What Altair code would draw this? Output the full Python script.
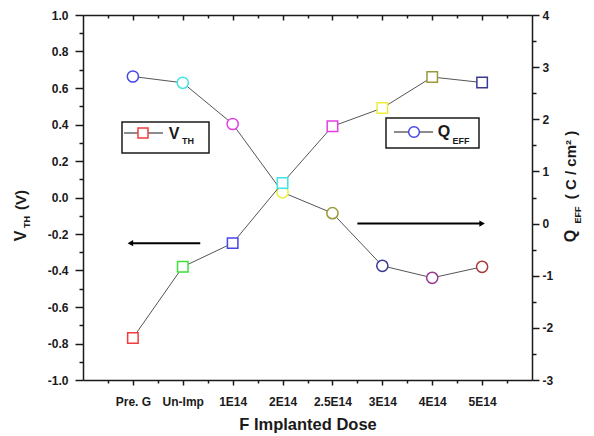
import json
import altair as alt
import pandas as pd

# ---------------- data ----------------
categories = ["Pre. G", "Un-Imp", "1E14", "2E14", "2.5E14", "3E14", "4E14", "5E14"]
vth_values = [-0.77, -0.38, -0.25, 0.08, 0.39, 0.49, 0.66, 0.63]
qeff_values = [2.82, 2.70, 1.91, 0.60, 0.20, -0.81, -1.04, -0.83]
square_colors = ["#f23c3c", "#3ee03e", "#4646e6", "#3fe3e3", "#e43fe4", "#eeee3c", "#9a9a38", "#3a3a94"]
circle_colors = ["#4646e6", "#3fe3e3", "#e43fe4", "#eeee3c", "#9a9a38", "#3a3a94", "#943a94", "#a83a3a"]

x_ticks = [i / 2 for i in range(-1, 16)]
left_ticks = [round(-1 + i * 0.1, 1) for i in range(21)]
right_ticks = [-3 + i * 0.5 for i in range(15)]

left_arrow = {"x": [1.35], "x2": [-0.05], "v": [-0.25]}
right_arrow = {"x": [4.5], "x2": [7.0], "q": [0.0]}

df = pd.DataFrame({
    "idx": list(range(len(categories))),
    "cat": categories,
    "vth": vth_values,
    "qeff": qeff_values,
    "sq_col": square_colors,
    "ci_col": circle_colors,
})

FONT = "Liberation Sans"
AX = "#1a1a1a"
LINE = "#555555"
W, H = 449, 365

cat_arr = json.dumps(categories)

x_scale = alt.Scale(domain=[-1, 8], nice=False, zero=False)

bottom_axis = alt.Axis(
    orient="bottom", values=x_ticks,
    labelExpr=f"(datum.value % 1 === 0 && datum.value >= 0) ? {cat_arr}[datum.value] : ''",
    tickSize={"condition": {"test": "datum.value % 1 === 0", "value": 5}, "value": 3},
    title="F Implanted Dose", titleFont=FONT, titleFontSize=16.5, titleFontWeight="bold",
    titleColor=AX, titlePadding=9,
    labelFont=FONT, labelFontSize=12, labelFontWeight="bold", labelColor=AX,
    labelPadding=11, labelFlush=False, labelOverlap=False,
    grid=False, domainColor=AX, domainWidth=1.5, tickColor=AX, tickWidth=1.5,
)

top_axis = alt.Axis(
    orient="bottom", offset=-H, values=x_ticks, labels=False, title=None,
    tickSize={"condition": {"test": "datum.value % 1 === 0", "value": 5}, "value": 3},
    grid=False, domainColor=AX, domainWidth=1.5, tickColor=AX, tickWidth=1.5,
)

left_axis = alt.Axis(
    orient="left", values=left_ticks, title=None,
    labelExpr="abs(round(datum.value * 10)) % 2 === 0 ? replace(format(datum.value, '.1f'), '\u2212', '-') : ''",
    tickSize={"condition": {"test": "abs(round(datum.value * 10)) % 2 === 0", "value": 8}, "value": 4},
    labelFont=FONT, labelFontSize=12, labelFontWeight="bold", labelColor=AX,
    labelPadding=7, labelFlush=False, labelOverlap=False,
    grid=False, domainColor=AX, domainWidth=1.5, tickColor=AX, tickWidth=1.5,
)

right_axis = alt.Axis(
    orient="right", values=right_ticks, title=None,
    labelExpr="datum.value % 1 === 0 ? ('' + datum.value) : ''",
    tickSize={"condition": {"test": "datum.value % 1 === 0", "value": 7}, "value": 4},
    labelFont=FONT, labelFontSize=12, labelFontWeight="bold", labelColor=AX,
    labelPadding=3, labelFlush=False, labelOverlap=False,
    grid=False, domainColor=AX, domainWidth=1.5, tickColor=AX, tickWidth=1.5,
)

x_bottom = alt.X("idx:Q", scale=x_scale, axis=bottom_axis)
x_top = alt.X("idx:Q", scale=x_scale, axis=top_axis)

left_scale = alt.Scale(domain=[-1, 1], nice=False, zero=False)
right_scale = alt.Scale(domain=[-3, 4], nice=False, zero=False)
y_left = alt.Y("vth:Q", scale=left_scale, axis=left_axis)
y_right = alt.Y("qeff:Q", scale=right_scale, axis=right_axis)

base = alt.Chart(df)


def txt(s, x, y, size, angle=0):
    kw = dict(font=FONT, fontSize=size, fontWeight="bold", color=AX, align="center", baseline="middle")
    if angle:
        kw["angle"] = angle
    return alt.Chart(pd.DataFrame({"t": [s]})).mark_text(**kw).encode(
        x=alt.value(x), y=alt.value(y), text="t:N")


def one():
    return alt.Chart(pd.DataFrame({"k": [0]}))


# ---------- V_TH group (left axis) ----------
v_line = base.mark_line(color=LINE, strokeWidth=1).encode(x=x_bottom, y=y_left)
v_pts = base.mark_point(shape="square", size=110, filled=False, strokeWidth=1.5, fill="white", fillOpacity=1).encode(
    x=x_bottom, y=y_left, stroke=alt.Stroke("sq_col:N", scale=None))

la_df = pd.DataFrame(left_arrow)
la_line = alt.Chart(la_df).mark_rule(color="black", strokeWidth=2).encode(
    x=alt.X("x:Q", scale=x_scale, axis=bottom_axis), x2="x2:Q", y=alt.Y("v:Q", scale=left_scale, axis=left_axis))
la_head = alt.Chart(la_df).mark_point(shape="triangle-left", filled=True, color="black", size=40, opacity=1).encode(
    x=alt.X("x2:Q", scale=x_scale, axis=bottom_axis), y=alt.Y("v:Q", scale=left_scale, axis=left_axis))

# legend 1 (V_TH)
leg1_box = one().mark_rect(fill="white", stroke=AX, strokeWidth=1.5).encode(
    x=alt.value(39), x2=alt.value(126), y=alt.value(107), y2=alt.value(138))
leg1_line = one().mark_rule(color=AX, strokeWidth=1.2).encode(
    x=alt.value(41), x2=alt.value(80), y=alt.value(118))
leg1_sym = one().mark_point(shape="square", size=100, filled=False, strokeWidth=1.5, fill="white", fillOpacity=1, stroke=square_colors[0]).encode(
    x=alt.value(60), y=alt.value(118))
leg1_v = txt("V", 91, 119, 16)
leg1_th = txt("TH", 105, 126, 9)

# left axis title
lt_v = txt("V", -62, 221, 16, angle=270)
lt_th = txt("TH", -56, 207, 9, angle=270)
lt_u = txt("(V)", -62, 185, 15, angle=270)

left_group = alt.layer(v_line, v_pts, la_line, la_head, leg1_box, leg1_line, leg1_sym, leg1_v, leg1_th, lt_v, lt_th, lt_u)

# ---------- Q_EFF group (right axis) ----------
q_line = base.mark_line(color=LINE, strokeWidth=1).encode(x=x_top, y=y_right)
q_pts = base.mark_point(shape="circle", size=125, filled=False, strokeWidth=1.5, fill="white", fillOpacity=1).encode(
    x=x_top, y=y_right, stroke=alt.Stroke("ci_col:N", scale=None))

ra_df = pd.DataFrame(right_arrow)
ry = alt.Y("q:Q", scale=right_scale, axis=right_axis)
ra_line = alt.Chart(ra_df).mark_rule(color="black", strokeWidth=2).encode(
    x=alt.X("x:Q", scale=x_scale, axis=top_axis), x2="x2:Q", y=ry)
ra_head = alt.Chart(ra_df).mark_point(shape="triangle-right", filled=True, color="black", size=40, opacity=1).encode(
    x=alt.X("x2:Q", scale=x_scale, axis=top_axis), y=ry)

leg2_box = one().mark_rect(fill="white", stroke=AX, strokeWidth=1.5).encode(
    x=alt.value(303), x2=alt.value(396), y=alt.value(103), y2=alt.value(133))
leg2_line = one().mark_rule(color=AX, strokeWidth=1.2).encode(
    x=alt.value(311), x2=alt.value(350), y=alt.value(117))
leg2_sym = one().mark_point(shape="circle", size=115, filled=False, strokeWidth=1.5, fill="white", fillOpacity=1, stroke=circle_colors[0]).encode(
    x=alt.value(331), y=alt.value(117))
leg2_q = txt("Q", 361, 117, 16)
leg2_eff = txt("EFF", 378, 126, 9)

rt_q = txt("Q", 488, 221, 16, angle=270)
rt_eff = txt("EFF", 495, 200, 9, angle=270)
rt_u = txt("( C / cm\u00b2 )", 488, 150, 15, angle=270)

right_group = alt.layer(q_line, q_pts, ra_line, ra_head, leg2_box, leg2_line, leg2_sym, leg2_q, leg2_eff, rt_q, rt_eff, rt_u)

chart = alt.layer(right_group, left_group).resolve_scale(y="independent").resolve_axis(x="independent").properties(
    width=W, height=H,
    autosize=alt.AutoSizeParams(type="none"),
    padding={"left": 83, "top": 15, "right": 62, "bottom": 56},
).configure_view(stroke=None).configure(background="white")

chart.save("out.html", embed_options={"renderer": "svg", "actions": False})
